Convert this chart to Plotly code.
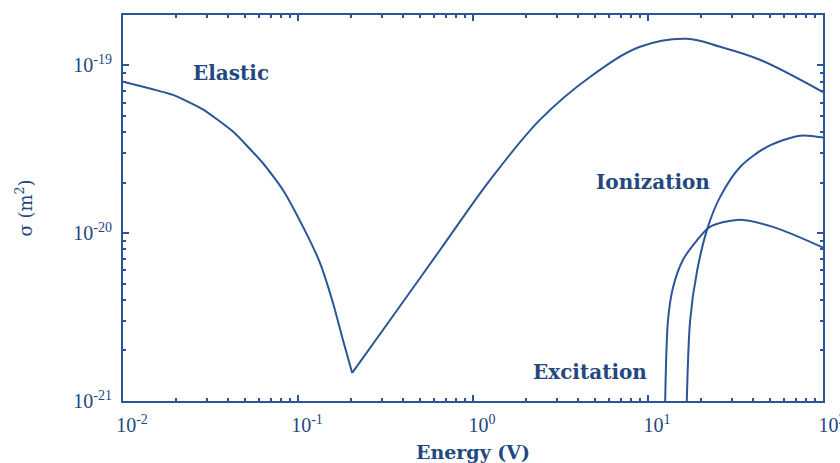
import plotly.graph_objects as go

# ---- data ----
elastic_energy = [0.01, 0.0193, 0.0286, 0.0425, 0.0631, 0.082, 0.1069, 0.1337, 0.1585, 0.1807, 0.204,
                  0.336, 0.648, 1.25, 2.41, 4.66, 9.0, 16.7, 25.8, 43.6, 100]
elastic_sigma = [8.0e-20, 6.67e-20, 5.47e-20, 4.03e-20, 2.61e-20, 1.81e-20, 1.09e-20, 6.64e-21, 3.84e-21, 2.31e-21, 1.47e-21,
                 3.04e-21, 7.94e-21, 2.07e-20, 4.73e-20, 8.53e-20, 1.29e-19, 1.44e-19, 1.29e-19, 1.08e-19, 6.93e-20]

ionization_energy = [16.4, 17.4, 19.1, 22.0, 25.8, 33.6, 47.9, 73.9, 100]
ionization_sigma = [5e-22, 3.0e-21, 6.0e-21, 1.09e-20, 1.64e-20, 2.48e-20, 3.27e-20, 3.81e-20, 3.71e-20]

excitation_energy = [12.4, 13.0, 13.9, 15.8, 19.1, 22.6, 32.3, 51.8, 100]
excitation_sigma = [5e-22, 3.0e-21, 4.75e-21, 6.9e-21, 9.1e-21, 1.09e-20, 1.20e-20, 1.09e-20, 8.2e-21]

x_tick_vals = [1e-2, 1e-1, 1e0, 1e1, 1e2]
x_tick_text = ["10<sup>-2</sup>", "10<sup>-1</sup>", "10<sup>0</sup>", "10<sup>1</sup>", "10<sup>2</sup>"]
y_tick_vals = [1e-21, 1e-20, 1e-19]
y_tick_text = ["10<sup>-21</sup>", "10<sup>-20</sup>", "10<sup>-19</sup>"]

LINE = "#2c5597"
TEXT = "#24477f"
SERIF = "Liberation Serif"
LABEL_FONT = "DejaVu Serif"

fig = go.Figure()

# elastic curve drawn as two branches meeting at its sharp minimum
i_min = elastic_sigma.index(min(elastic_sigma))
branches = [
    (elastic_energy[:i_min + 1], elastic_sigma[:i_min + 1], 0.5),
    (elastic_energy[i_min:], elastic_sigma[i_min:], 1.0),
    (ionization_energy, ionization_sigma, 0.8),
    (excitation_energy, excitation_sigma, 0.8),
]
for xs, ys, sm in branches:
    fig.add_trace(go.Scatter(x=xs, y=ys, mode="lines",
                             line=dict(color=LINE, width=2, shape="spline", smoothing=sm),
                             showlegend=False, hoverinfo="skip"))

axis_common = dict(
    type="log", showgrid=False, zeroline=False, automargin=False,
    showline=True, linecolor=LINE, linewidth=2, mirror="ticks",
    ticks="inside", ticklen=6, tickwidth=2, tickcolor=LINE,
    tickfont=dict(family=SERIF, size=20, color=TEXT),
    ticklabeloverflow="allow",
    minor=dict(ticks="inside", ticklen=3, tickwidth=1.5, tickcolor=LINE, dtick="D1", showgrid=False),
)

fig.update_xaxes(**axis_common, range=[-2, 2], tickmode="array", tickvals=x_tick_vals, ticktext=x_tick_text,
                 ticklabelshift=9, ticklabelstandoff=5,
                 title=dict(text="Energy (V)", font=dict(family=LABEL_FONT, size=19, color=TEXT, weight="bold"),
                            standoff=16))
fig.update_yaxes(**axis_common, range=[-21, -18.70], tickmode="array", tickvals=y_tick_vals, ticktext=y_tick_text,
                 ticklabelstandoff=5,
                 title=dict(text="σ (m<sup>2</sup>)", font=dict(family=LABEL_FONT, size=18, color=TEXT),
                            standoff=36))

for text, xp, yp in [("Elastic", 0.154, 0.85), ("Ionization", 0.757, 0.567), ("Excitation", 0.667, 0.075)]:
    fig.add_annotation(text=text, x=xp, y=yp, xref="paper", yref="paper", showarrow=False,
                       xanchor="center", yanchor="middle",
                       font=dict(family=LABEL_FONT, size=20, color=TEXT, weight="bold"))

fig.update_layout(width=840, height=463, margin=dict(l=123, r=17, t=15, b=62),
                  plot_bgcolor="white", paper_bgcolor="white")

fig.write_html("out.html")
